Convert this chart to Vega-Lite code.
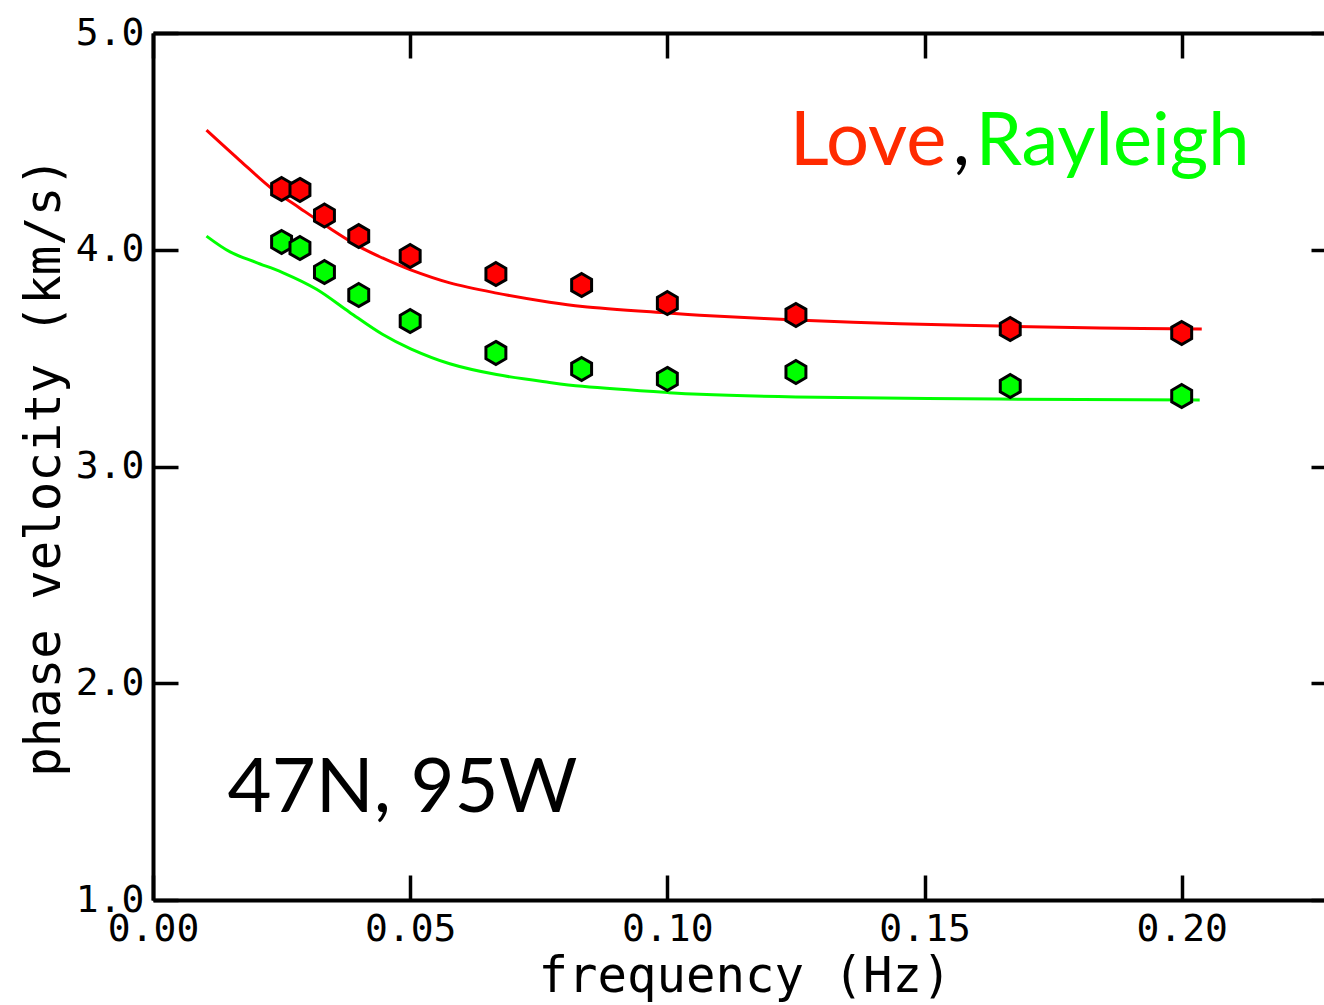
{
  "$schema": "https://vega.github.io/schema/vega-lite/v6.json",
  "autosize": {"type": "none"},
  "padding": {"left": 153, "top": 33, "right": 0, "bottom": 105},
  "width": 1183,
  "height": 867,
  "background": "white",
  "config": {
    "view": {"stroke": null},
    "axis": {
      "domainColor": "black",
      "domainWidth": 4,
      "tickColor": "black",
      "tickWidth": 3.5,
      "tickSize": -25,
      "grid": false,
      "labelFont": "DejaVu Sans Mono",
      "labelFontSize": 38,
      "labelColor": "black",
      "labelFlush": false,
      "labelOverlap": false,
      "titleFont": "DejaVu Sans Mono",
      "titleFontSize": 49,
      "titleFontWeight": "normal",
      "titleColor": "black"
    }
  },
  "datasets": {
    "curves": [
      {"f": 0.0104, "v": 4.552, "wave": "Love"},
      {"f": 0.0168, "v": 4.414, "wave": "Love"},
      {"f": 0.0232, "v": 4.280, "wave": "Love"},
      {"f": 0.0285, "v": 4.193, "wave": "Love"},
      {"f": 0.0343, "v": 4.100, "wave": "Love"},
      {"f": 0.0402, "v": 4.013, "wave": "Love"},
      {"f": 0.0446, "v": 3.962, "wave": "Love"},
      {"f": 0.0501, "v": 3.907, "wave": "Love"},
      {"f": 0.0577, "v": 3.847, "wave": "Love"},
      {"f": 0.0668, "v": 3.800, "wave": "Love"},
      {"f": 0.0771, "v": 3.758, "wave": "Love"},
      {"f": 0.0835, "v": 3.738, "wave": "Love"},
      {"f": 0.1001, "v": 3.708, "wave": "Love"},
      {"f": 0.1063, "v": 3.698, "wave": "Love"},
      {"f": 0.1250, "v": 3.676, "wave": "Love"},
      {"f": 0.1452, "v": 3.659, "wave": "Love"},
      {"f": 0.1646, "v": 3.648, "wave": "Love"},
      {"f": 0.1841, "v": 3.639, "wave": "Love"},
      {"f": 0.2039, "v": 3.634, "wave": "Love"},
      {"f": 0.0104, "v": 4.063, "wave": "Rayleigh"},
      {"f": 0.0150, "v": 3.990, "wave": "Rayleigh"},
      {"f": 0.0200, "v": 3.942, "wave": "Rayleigh"},
      {"f": 0.0252, "v": 3.895, "wave": "Rayleigh"},
      {"f": 0.0318, "v": 3.818, "wave": "Rayleigh"},
      {"f": 0.0382, "v": 3.712, "wave": "Rayleigh"},
      {"f": 0.0446, "v": 3.610, "wave": "Rayleigh"},
      {"f": 0.0501, "v": 3.543, "wave": "Rayleigh"},
      {"f": 0.0577, "v": 3.474, "wave": "Rayleigh"},
      {"f": 0.0668, "v": 3.424, "wave": "Rayleigh"},
      {"f": 0.0771, "v": 3.388, "wave": "Rayleigh"},
      {"f": 0.0835, "v": 3.370, "wave": "Rayleigh"},
      {"f": 0.1001, "v": 3.341, "wave": "Rayleigh"},
      {"f": 0.1063, "v": 3.333, "wave": "Rayleigh"},
      {"f": 0.1250, "v": 3.321, "wave": "Rayleigh"},
      {"f": 0.1646, "v": 3.311, "wave": "Rayleigh"},
      {"f": 0.2035, "v": 3.307, "wave": "Rayleigh"}
    ],
    "obs": [
      {"f": 0.025, "v": 4.280, "wave": "Love"},
      {"f": 0.028571, "v": 4.276, "wave": "Love"},
      {"f": 0.033333, "v": 4.158, "wave": "Love"},
      {"f": 0.04, "v": 4.063, "wave": "Love"},
      {"f": 0.05, "v": 3.971, "wave": "Love"},
      {"f": 0.066667, "v": 3.888, "wave": "Love"},
      {"f": 0.083333, "v": 3.837, "wave": "Love"},
      {"f": 0.1, "v": 3.754, "wave": "Love"},
      {"f": 0.125, "v": 3.699, "wave": "Love"},
      {"f": 0.166667, "v": 3.634, "wave": "Love"},
      {"f": 0.2, "v": 3.616, "wave": "Love"},
      {"f": 0.025, "v": 4.036, "wave": "Rayleigh"},
      {"f": 0.028571, "v": 4.008, "wave": "Rayleigh"},
      {"f": 0.033333, "v": 3.897, "wave": "Rayleigh"},
      {"f": 0.04, "v": 3.791, "wave": "Rayleigh"},
      {"f": 0.05, "v": 3.671, "wave": "Rayleigh"},
      {"f": 0.066667, "v": 3.524, "wave": "Rayleigh"},
      {"f": 0.083333, "v": 3.450, "wave": "Rayleigh"},
      {"f": 0.1, "v": 3.404, "wave": "Rayleigh"},
      {"f": 0.125, "v": 3.436, "wave": "Rayleigh"},
      {"f": 0.166667, "v": 3.371, "wave": "Rayleigh"},
      {"f": 0.2, "v": 3.325, "wave": "Rayleigh"}
    ]
  },
  "resolve": {"axis": {"x": "independent", "y": "independent"}},
  "layer": [
    {
      "data": {"name": "curves"},
      "mark": {"type": "line", "strokeWidth": 3, "interpolate": "catmull-rom"},
      "encoding": {
        "x": {
          "field": "f", "type": "quantitative",
          "scale": {"domain": [0, 0.23], "nice": false, "zero": false},
          "axis": {"orient": "bottom", "values": [0, 0.05, 0.1, 0.15, 0.2], "format": ".2f", "labelPadding": 35, "title": "frequency (Hz)", "titlePadding": 4}
        },
        "y": {
          "field": "v", "type": "quantitative",
          "scale": {"domain": [1, 5], "nice": false, "zero": false},
          "axis": {"orient": "left", "values": [1, 2, 3, 4, 5], "format": ".1f", "labelPadding": 34, "labelBaseline": "middle", "title": "phase velocity (km/s)", "titlePadding": 6}
        },
        "color": {
          "field": "wave", "type": "nominal",
          "scale": {"domain": ["Love", "Rayleigh"], "range": ["#ff0000", "#00ff00"]},
          "legend": null
        },
        "detail": {"field": "wave"}
      }
    },
    {
      "data": {"name": "obs"},
      "mark": {
        "type": "point",
        "filled": true,
        "opacity": 1,
        "shape": "M0,-1L0.866,-0.5L0.866,0.5L0,1L-0.866,0.5L-0.866,-0.5Z",
        "size": 530,
        "stroke": "black",
        "strokeWidth": 3
      },
      "encoding": {
        "x": {
          "field": "f", "type": "quantitative",
          "axis": {"orient": "top", "values": [0, 0.05, 0.1, 0.15, 0.2], "labels": false, "title": null}
        },
        "y": {
          "field": "v", "type": "quantitative",
          "axis": {"orient": "right", "values": [1, 2, 3, 4, 5], "labels": false, "title": null}
        },
        "fill": {
          "field": "wave", "type": "nominal",
          "scale": {"domain": ["Love", "Rayleigh"], "range": ["#ff0000", "#00ff00"]},
          "legend": null
        }
      }
    },
    {
      "data": {"values": [{"label": "Love", "f": 0.1238, "v": 4.391}]},
      "mark": {"type": "text", "font": "Lato", "fontSize": 76, "align": "left", "baseline": "alphabetic", "color": "#ff2a00"},
      "encoding": {
        "x": {"field": "f", "type": "quantitative", "axis": null},
        "y": {"field": "v", "type": "quantitative", "axis": null},
        "text": {"field": "label"}
      }
    },
    {
      "data": {"values": [{"label": ",", "f": 0.1555, "v": 4.391}]},
      "mark": {"type": "text", "font": "Lato", "fontSize": 76, "align": "left", "baseline": "alphabetic", "color": "black"},
      "encoding": {
        "x": {"field": "f", "type": "quantitative", "axis": null},
        "y": {"field": "v", "type": "quantitative", "axis": null},
        "text": {"field": "label"}
      }
    },
    {
      "data": {"values": [{"label": "Rayleigh", "f": 0.2132, "v": 4.391}]},
      "mark": {"type": "text", "font": "Lato", "fontSize": 74, "align": "right", "baseline": "alphabetic", "color": "#00ff00"},
      "encoding": {
        "x": {"field": "f", "type": "quantitative", "axis": null},
        "y": {"field": "v", "type": "quantitative", "axis": null},
        "text": {"field": "label"}
      }
    },
    {
      "data": {"values": [{"label": "47N, 95W", "f": 0.0145, "v": 1.406}]},
      "mark": {"type": "text", "font": "Lato", "fontSize": 76, "align": "left", "baseline": "alphabetic", "color": "black"},
      "encoding": {
        "x": {"field": "f", "type": "quantitative", "axis": null},
        "y": {"field": "v", "type": "quantitative", "axis": null},
        "text": {"field": "label"}
      }
    }
  ]
}
